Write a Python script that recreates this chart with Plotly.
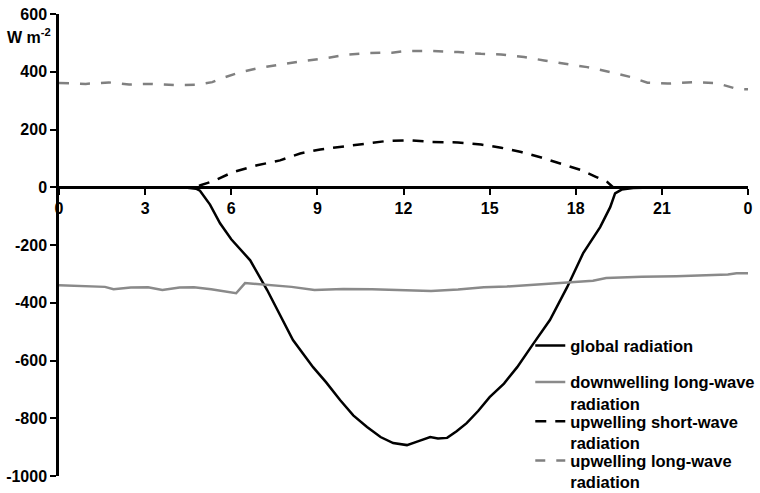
import plotly.graph_objects as go

# Hour of day (0-24) and flux values in W m-2
global_hours = [0, 1, 2, 3, 4, 4.4, 4.77, 4.91, 5.26, 5.61, 6.0, 6.66, 7.25, 7.7, 8.15, 8.85, 9.3,
                9.79, 10.25, 10.73, 11.2, 11.64, 12.12, 12.5, 12.93, 13.2, 13.52, 13.85, 14.2,
                14.6, 15.0, 15.5, 15.96, 16.5, 17.1, 17.7, 18.26, 18.85, 19.2, 19.37, 19.6,
                20.0, 21, 22, 23, 24]
global_rad = [0, 0, 0, 0, 0, -1, -5, -12, -60, -125, -180, -253, -356, -440, -529, -623, -675,
              -737, -790, -830, -865, -886, -893, -880, -865, -870, -868, -845, -817,
              -775, -727, -680, -623, -545, -460, -346, -228, -138, -69, -21, -8,
              -3, 0, 0, 0, 0]

lw_down_hours = [0, 0.6, 1.2, 1.6, 1.9, 2.5, 3.1, 3.6, 4.2, 4.7, 5.3, 5.9, 6.17, 6.48, 6.9,
                 7.35, 8.1, 8.9, 9.9, 10.9, 12.0, 12.96, 13.9, 14.8, 15.6, 16.4, 17.0, 17.67,
                 18.6, 19.06, 19.6, 20.3, 21.5, 22.6, 23.3, 23.6, 24]
lw_down = [-339, -341, -344, -345, -353, -347, -346, -356, -347, -346, -353, -363, -367, -332,
           -335, -339, -345, -356, -352, -353, -356, -359, -354, -346, -344, -339, -336, -332,
           -324, -314, -312, -310, -308, -305, -302, -298, -298]

sw_up_hours = [0, 1, 2, 3, 4, 4.56, 4.9, 5.37, 6.07, 6.9, 7.7, 8.4, 9.1, 9.9, 10.7, 11.4,
               12.2, 13.0, 13.9, 14.7, 15.4, 16.1, 16.8, 17.5, 18.2, 18.7, 19.1, 19.3, 20,
               21, 22, 23, 24]
sw_up = [0, 0, 0, 0, 0, 0, 6, 21, 53, 76, 93, 117, 131, 142, 153, 160,
         163, 157, 155, 148, 137, 122, 103, 82, 59, 36, 18, 0, 0,
         0, 0, 0, 0]

lw_up_hours = [0, 0.93, 1.74, 2.44, 3.24, 4.0, 4.77, 5.34, 5.68, 6.27, 6.97, 7.77, 8.47, 9.3,
               10.0, 10.8, 11.6, 12.1, 13.0, 13.9, 14.7, 15.4, 16.2, 16.9, 17.7, 18.4, 19.2,
               19.9, 20.5, 21.2, 22.1, 22.9, 23.6, 24]
lw_up = [361, 358, 363, 356, 358, 354, 355, 364, 378, 397, 413, 426, 437, 447,
         459, 465, 466, 472, 472, 468, 462, 460, 451, 439, 428, 416, 399,
         382, 362, 359, 364, 361, 341, 339]

x_tickvals = [0, 3, 6, 9, 12, 15, 18, 21, 24]
x_ticktext = ["0", "3", "6", "9", "12", "15", "18", "21", "0"]
y_tickvals = [-1000, -800, -600, -400, -200, 0, 200, 400, 600]
y_ticktext = ["-1000", "-800", "-600", "-400", "-200", "0", "200", "400", "600"]

FONT = "Liberation Sans, Arial, sans-serif"
BOLD = dict(family=FONT, size=16, color="#000000", weight="bold")
LEG_FONT = dict(family=FONT, size=16.5, color="#000000", weight="bold")

fig = go.Figure()
fig.add_trace(go.Scatter(x=global_hours, y=global_rad, mode="lines",
                         name="global radiation", legend="legend",
                         line=dict(color="#000000", width=2.5)))
fig.add_trace(go.Scatter(x=lw_down_hours, y=lw_down, mode="lines",
                         name="downwelling long-wave<br>radiation", legend="legend2",
                         line=dict(color="#8a8a8a", width=2.5)))
fig.add_trace(go.Scatter(x=sw_up_hours, y=sw_up, mode="lines",
                         name="upwelling short-wave<br>radiation", legend="legend3",
                         line=dict(color="#000000", width=2.5, dash="11px,9px")))
fig.add_trace(go.Scatter(x=lw_up_hours, y=lw_up, mode="lines",
                         name="upwelling long-wave<br>radiation", legend="legend4",
                         line=dict(color="#808080", width=2.5, dash="10px,11px")))


def legend_box(ytop):
    return dict(x=0.684, y=ytop, xanchor="left", yanchor="top",
                bgcolor="rgba(0,0,0,0)", valign="top", font=LEG_FONT)


fig.update_layout(
    width=760, height=493,
    margin=dict(l=59, r=12, t=14, b=17, autoexpand=False),
    paper_bgcolor="white", plot_bgcolor="white",
    font=dict(family=FONT, color="#000000"),
    showlegend=True,
    legend=legend_box(0.320),
    legend2=legend_box(0.241),
    legend3=legend_box(0.156),
    legend4=legend_box(0.071),
    xaxis=dict(
        range=[0, 24], tickmode="array", tickvals=x_tickvals, ticktext=x_ticktext,
        showline=True, linecolor="#000000", linewidth=2.5,
        ticks="outside", ticklen=6, tickwidth=2, tickcolor="#000000",
        anchor="free", position=0.625, showgrid=False, zeroline=False,
        automargin=False, tickfont=BOLD,
    ),
    yaxis=dict(
        range=[-1000, 600], tickmode="array", tickvals=y_tickvals, ticktext=y_ticktext,
        showline=True, linecolor="#000000", linewidth=2.5,
        ticks="outside", ticklen=6, tickwidth=2, tickcolor="#000000",
        showgrid=False, zeroline=False, automargin=False, tickfont=BOLD,
    ),
    annotations=[dict(
        text="W m<sup>-2</sup>", xref="paper", yref="y", x=0, y=525,
        xanchor="right", yanchor="middle", xshift=-6, showarrow=False,
        font=BOLD,
    )],
)

fig.write_html("out.html")
